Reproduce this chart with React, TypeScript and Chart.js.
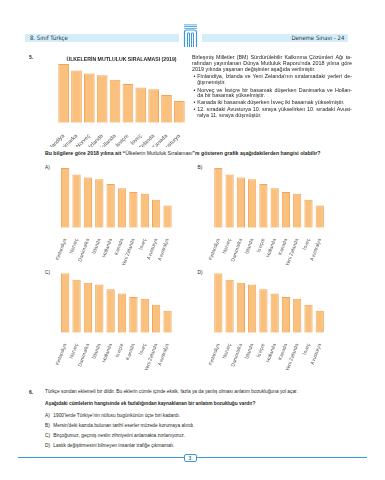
import React, { useEffect, useRef } from "react";
import { Chart, registerables } from "chart.js";
Chart.register(...registerables);

// ---- data ----
const scores = [10, 8.9, 8.4, 8.1, 7.3, 6.6, 6.0, 5.7, 4.7, 3.7];
const labels2019 = ["Finlandiya", "Danimarka", "Norveç", "İzlanda", "Hollanda", "İsviçre", "İsveç", "Yeni Zelanda", "Kanada", "Avusturya"];
const labelsA = ["Finlandiya", "Norveç", "Danimarka", "İzlanda", "Hollanda", "Kanada", "Yeni Zelanda", "İsveç", "Avusturya", "Avustralya"];
const labelsB = ["Finlandiya", "Norveç", "Danimarka", "İzlanda", "İsviçre", "Hollanda", "Kanada", "Yeni Zelanda", "İsveç", "Avustralya"];
const labelsC = ["Finlandiya", "Norveç", "Danimarka", "İzlanda", "Hollanda", "İsviçre", "Kanada", "İsveç", "Yeni Zelanda", "Avustralya"];
const labelsD = ["Finlandiya", "Norveç", "Danimarka", "İzlanda", "İsviçre", "Hollanda", "Kanada", "Yeni Zelanda", "İsveç", "Avusturya"];
const chartTitle = "ÜLKELERİN MUTLULUK SIRALAMASI (2019)";

const FILL = "#F9C07E";
const BORDER = "#F2A55A";
const FONT = "'Liberation Sans', Arial, sans-serif";
const TEXT = "#231f20";
const BLUE = "#3a9bd8";

type Box = { left: number; top: number; width: number; height: number; areaL: number; areaR: number; areaT: number; areaB: number };

function BarChart(props: { labels: string[]; values: number[]; box: Box; rotation: number; fontSize: number; barPct: number; title?: string }) {
  const ref = useRef<HTMLCanvasElement>(null);
  const { labels, values, box, rotation, fontSize, barPct, title } = props;
  useEffect(() => {
    const xH = box.height - box.areaB;
    const titleSize = 5.2;
    const tLine = titleSize * 1.2;
    const padTop = box.areaT - 1.5 - tLine;
    const chart = new Chart(ref.current as HTMLCanvasElement, {
      type: "bar",
      data: {
        labels,
        datasets: [
          {
            data: values,
            backgroundColor: FILL,
            borderColor: BORDER,
            borderWidth: 1,
            barPercentage: barPct,
            categoryPercentage: 1,
          },
        ],
      },
      options: {
        responsive: false,
        animation: false,
        devicePixelRatio: 1,
        layout: { padding: { left: box.areaL, right: box.width - box.areaR, top: title ? 0 : box.areaT, bottom: 0 } },
        plugins: {
          legend: { display: false },
          tooltip: { enabled: false },
          title: title
            ? {
                display: true,
                text: title,
                color: TEXT,
                font: { size: titleSize, weight: "bold", family: FONT, lineHeight: 1.2 },
                padding: { top: padTop, bottom: 1.5 },
              }
            : { display: false },
        },
        scales: {
          x: {
            grid: { display: false },
            border: { display: false },
            ticks: {
              autoSkip: false,
              minRotation: rotation,
              maxRotation: rotation,
              color: "#555",
              padding: 2,
              font: { size: fontSize, family: FONT },
            },
            afterFit: (s: any) => {
              s.height = xH;
              s.paddingLeft = 0;
              s.paddingRight = 0;
            },
          },
          y: { display: false, min: 0, max: 10 },
        },
      } as any,
    });
    return () => chart.destroy();
  }, []);
  return (
    <canvas
      ref={ref}
      width={box.width}
      height={box.height}
      style={{ position: "absolute", left: box.left, top: box.top, width: box.width, height: box.height }}
    />
  );
}

function T(props: { x: number; y: number; s?: number; w?: number; j?: boolean; b?: boolean; children?: any; ff?: string; c?: string }) {
  const s = props.s ?? 5.4;
  const base: any = {
    position: "absolute",
    left: props.x,
    top: props.y - s * 0.55,
    fontSize: s,
    lineHeight: 1,
    fontFamily: props.ff ?? FONT,
    fontWeight: props.b ? "bold" : "normal",
    color: props.c ?? TEXT,
    whiteSpace: "nowrap",
  };
  if (props.j && typeof props.children === "string") {
    const words = (props.children as string).split(" ");
    return (
      <div style={{ ...base, width: props.w, display: "flex", justifyContent: "space-between" }}>
        {words.map((w, i) => (
          <span key={i}>{w}</span>
        ))}
      </div>
    );
  }
  return <div style={base}>{props.children}</div>;
}

function Logo() {
  return (
    <svg style={{ position: "absolute", left: 183, top: 24 }} width={15} height={24} viewBox="0 0 15 24">
      <rect x={1} y={0.5} width={13} height={0.8} fill={BLUE} />
      <rect x={1} y={2.2} width={13} height={0.8} fill={BLUE} />
      <rect x={1} y={3.9} width={13} height={0.8} fill={BLUE} />
      <path d="M1.5 23 V8 Q1.5 6 4 6 H11 Q13.5 6 13.5 8 V23" fill="none" stroke={BLUE} strokeWidth={1.2} />
      <path d="M4.5 23 V9 H6.5 V23" fill="none" stroke={BLUE} strokeWidth={1} />
      <path d="M8.5 23 V9 H10.5 V23" fill="none" stroke={BLUE} strokeWidth={1} />
    </svg>
  );
}

export default function App() {
  const rx = 192;
  const rw = 160;
  const bx = 193.5;
  const btx = 197.3;
  const bw = rw - (btx - rx);
  const qs = 4.8;
  return (
    <div style={{ position: "fixed", left: 0, top: 0, width: 385, height: 480, background: "#fff", overflow: "hidden", fontFamily: FONT }}>
      {/* header */}
      <div style={{ position: "absolute", left: 25, top: 34.3, width: 154, height: 8, background: "#d3eefa" }} />
      <div style={{ position: "absolute", left: 201.7, top: 34.3, width: 146, height: 8, background: "#d3eefa" }} />
      <T x={30} y={38.3} s={6} ff="'Liberation Sans Narrow', 'DejaVu Sans Condensed', sans-serif" c="#333">8. Sınıf Türkçe</T>
      <div style={{ position: "absolute", right: 385 - 344.5, top: 38.3 - 3.3, fontSize: 6, lineHeight: 1, fontFamily: "'Liberation Sans Narrow', 'DejaVu Sans Condensed', sans-serif", color: "#333", whiteSpace: "nowrap" }}>
        Deneme Sınavı - 24
      </div>
      <Logo />

      {/* question 5 */}
      <T x={29} y={57.5} s={5} b>5.</T>
      <BarChart
        labels={labels2019}
        values={scores}
        box={{ left: 30, top: 52, width: 180, height: 95, areaL: 27.2, areaR: 155.8, areaT: 12, areaB: 70.7 }}
        rotation={45}
        fontSize={5.5}
        barPct={0.83}
        title={chartTitle}
      />

      <T x={rx} y={57.7} w={rw} j>Birleşmiş Milletler (BM) Sürdürülebilir Kalkınma Çözümleri Ağı ta-</T>
      <T x={rx} y={64} w={rw} j>rafından yayımlanan Dünya Mutluluk Raporu'nda 2018 yılına göre</T>
      <T x={rx} y={70}>2019 yılında yaşanan değişimler aşağıda verilmiştir.</T>
      <T x={bx} y={77.3}>•</T>
      <T x={btx} y={77.3} w={bw} j>Finlandiya, İzlanda ve Yeni Zelanda'nın sıralamadaki yerleri de-</T>
      <T x={btx} y={82.7}>ğişmemiştir.</T>
      <T x={bx} y={90.7}>•</T>
      <T x={btx} y={90.7} w={bw} j>Norveç ve İsviçre bir basamak düşerken Danimarka ve Hollan-</T>
      <T x={btx} y={96}>da bir basamak yükselmiştir.</T>
      <T x={bx} y={103.3}>•</T>
      <T x={btx} y={103.3}>Kanada iki basamak düşerken İsveç iki basamak yükselmiştir.</T>
      <T x={bx} y={110.3}>•</T>
      <T x={btx} y={110.3} w={bw} j>12. sıradaki Avusturya 10. sıraya yükselirken 10. sıradaki Avust-</T>
      <T x={btx} y={115.7}>ralya 11. sıraya düşmüştür.</T>

      <T x={45} y={154} s={5.2} b>
        Bu bilgilere göre 2018 yılına ait “<span style={{ fontWeight: "normal" }}>Ülkelerin Mutluluk Sıralaması</span>”nı gösteren grafik aşağıdakilerden hangisi olabilir?
      </T>

      {/* options */}
      <T x={45} y={169} s={4.8}>A)</T>
      <T x={197.5} y={169} s={4.8}>B)</T>
      <T x={45} y={274} s={4.8}>C)</T>
      <T x={197.5} y={274} s={4.8}>D)</T>
      <BarChart labels={labelsA} values={scores} box={{ left: 40, top: 160, width: 150, height: 105, areaL: 19.5, areaR: 133.2, areaT: 8, areaB: 67.7 }} rotation={70} fontSize={5} barPct={0.73} />
      <BarChart labels={labelsB} values={scores} box={{ left: 195, top: 160, width: 150, height: 105, areaL: 17.7, areaR: 130.4, areaT: 8, areaB: 67.7 }} rotation={70} fontSize={5} barPct={0.73} />
      <BarChart labels={labelsC} values={scores} box={{ left: 40, top: 265, width: 150, height: 105, areaL: 19.5, areaR: 133.2, areaT: 8.3, areaB: 67.7 }} rotation={70} fontSize={5} barPct={0.73} />
      <BarChart labels={labelsD} values={scores} box={{ left: 195, top: 265, width: 150, height: 105, areaL: 17.7, areaR: 130.4, areaT: 8.3, areaB: 67.7 }} rotation={70} fontSize={5} barPct={0.73} />

      {/* question 6 */}
      <T x={29} y={393} s={5} b>6.</T>
      <T x={45} y={393} s={qs}>Türkçe sondan eklemeli bir dildir. Bu eklerin cümle içinde eksik, fazla ya da yanlış olması anlatım bozukluğuna yol açar.</T>
      <T x={45} y={405} s={qs} b>Aşağıdaki cümlelerin hangisinde ek fazlalığından kaynaklanan bir anlatım bozukluğu vardır?</T>
      <T x={45} y={416.7} s={qs}>A)</T>
      <T x={53.3} y={416.7} s={qs}>1900'lerde Türkiye'nin nüfusu bugünkünün üçte biri kadardı.</T>
      <T x={45} y={426.8} s={qs}>B)</T>
      <T x={53.3} y={426.8} s={qs}>Mersin'deki kazıda bulunan tarihî eserler müzede korumaya alındı.</T>
      <T x={45} y={436.9} s={qs}>C)</T>
      <T x={53.3} y={436.9} s={qs}>Birçoğumuz, geçmiş neslin zihniyetini anlamakta zorlanıyoruz.</T>
      <T x={45} y={447} s={qs}>D)</T>
      <T x={53.3} y={447} s={qs}>Lastik değiştirmesini bilmeyen insanlar trafiğe çıkmamalı.</T>

      {/* footer */}
      <div style={{ position: "absolute", left: 18, top: 457.2, width: 349, height: 1, background: BLUE }} />
      <div style={{ position: "absolute", left: 183.5, top: 453.5, width: 13, height: 8, boxSizing: "border-box", border: `1px solid ${BLUE}`, borderRadius: 2, background: "#fff", fontSize: 5, lineHeight: "6px", textAlign: "center", color: TEXT }}>
        3
      </div>
    </div>
  );
}
